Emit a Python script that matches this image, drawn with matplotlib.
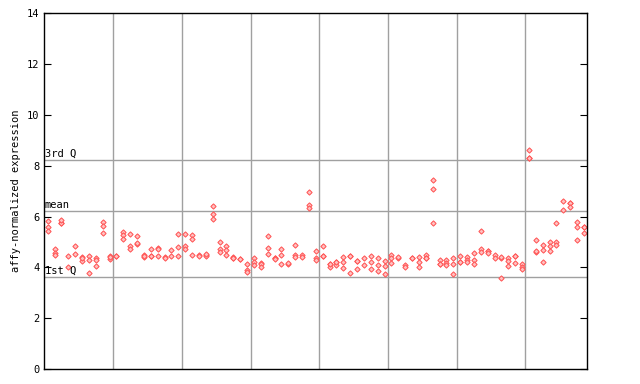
import numpy as np
import matplotlib
matplotlib.use("Agg")
import matplotlib.pyplot as plt

# replicate values per sample
samples = [
    [5.82, 5.57, 5.44], [4.71, 4.57, 4.47], [5.73, 5.76, 5.86], [4.43, 4.01],
    [4.86, 4.51], [4.40, 4.27, 4.35], [4.43, 4.31, 3.76], [4.35, 4.29, 4.04],
    [5.79, 5.62, 5.37], [4.44, 4.34, 4.40], [4.44, 4.46], [5.39, 5.27, 5.10],
    [5.33, 4.85, 4.71], [5.22, 4.93, 4.95], [4.48, 4.42, 4.45], [4.72, 4.44, 4.46],
    [4.77, 4.71, 4.43], [4.40, 4.38], [4.67, 4.43], [5.33, 4.82, 4.46],
    [5.33, 4.86, 4.71], [5.26, 5.12, 4.47], [4.50, 4.43], [4.48, 4.44, 4.52],
    [6.40, 6.12, 5.91], [4.98, 4.74, 4.59], [4.85, 4.67, 4.50], [4.42, 4.35, 4.38],
    [4.34, 4.32], [4.12, 3.89, 3.80], [4.35, 4.21, 4.08], [4.19, 4.12, 4.02],
    [5.22, 4.78, 4.51], [4.35, 4.37, 4.33], [4.74, 4.47, 4.15], [4.15, 4.17],
    [4.90, 4.50, 4.42], [4.47, 4.39], [6.95, 6.45, 6.32], [4.63, 4.38, 4.30],
    [4.86, 4.46, 4.44], [4.15, 4.02, 4.13], [4.22, 4.09, 4.20], [4.40, 4.23, 3.96],
    [4.46, 4.44, 3.76], [4.26, 4.24, 3.92], [4.35, 4.08], [4.44, 4.22, 3.92],
    [4.35, 4.08, 3.85], [4.27, 4.06, 3.72], [4.47, 4.36, 4.17], [4.38, 4.40],
    [4.08, 4.01], [4.35, 4.37], [4.39, 4.23, 4.01], [4.48, 4.38, 4.36],
    [7.42, 7.10, 5.73], [4.29, 4.15, 4.13], [4.29, 4.18, 4.09], [4.35, 4.12, 3.72],
    [4.44, 4.22, 4.20], [4.39, 4.31, 4.21], [4.55, 4.29, 4.14], [5.45, 4.74, 4.59],
    [4.65, 4.63, 4.55], [4.47, 4.35], [4.38, 4.40, 3.60], [4.35, 4.27, 4.04],
    [4.46, 4.44, 4.19], [4.15, 4.02, 3.92], [8.60, 8.31, 8.29], [5.06, 4.61, 4.63],
    [4.90, 4.68, 4.23], [4.98, 4.86, 4.63], [5.73, 4.98, 4.90], [6.63, 6.24],
    [6.54, 6.52, 6.36], [5.78, 5.57, 5.06], [5.37, 5.60, 5.58],
]
q1, mean_val, q3 = 3.62, 6.20, 8.21
quant_labels = ["1st Q", "mean", "3rd Q"]

xs = np.concatenate([[i] * len(v) for i, v in enumerate(samples)])
ys = np.concatenate(samples)

fig = plt.figure(figsize=(6.4, 3.84), dpi=100)
ax = fig.add_axes([0.0692, 0.039, 0.8485, 0.9264])

ax.set_xlim(-0.5, len(samples) - 0.5)
ax.set_ylim(0, 14)

for gx in np.arange(9.5, len(samples) - 1, 10):
    ax.axvline(gx, color="#a0a0a0", lw=1, zorder=1)
for val, lab in zip([q1, mean_val, q3], quant_labels):
    ax.axhline(val, color="#a0a0a0", lw=1, zorder=1)
    ax.text(-0.45, val + 0.05, lab, fontsize=7.5, family="DejaVu Sans Mono",
            va="bottom", ha="left", zorder=3)

ax.plot(xs, ys, "D", ms=2.7, mfc="#ffc0c0", mec="#ff5050", mew=0.7,
        ls="none", zorder=2)

ax.set_xticks([])
ax.set_yticks(np.arange(0, 15, 2))
ax.tick_params(axis="y", direction="in", length=5, right=True, labelsize=7.5)
for lab in ax.get_yticklabels():
    lab.set_family("DejaVu Sans Mono")
ax.set_ylabel("affy-normalized expression", fontsize=7.5, family="DejaVu Sans Mono",
              labelpad=4)
for s in ax.spines.values():
    s.set_linewidth(1)

fig.savefig("out.png", dpi=100)
